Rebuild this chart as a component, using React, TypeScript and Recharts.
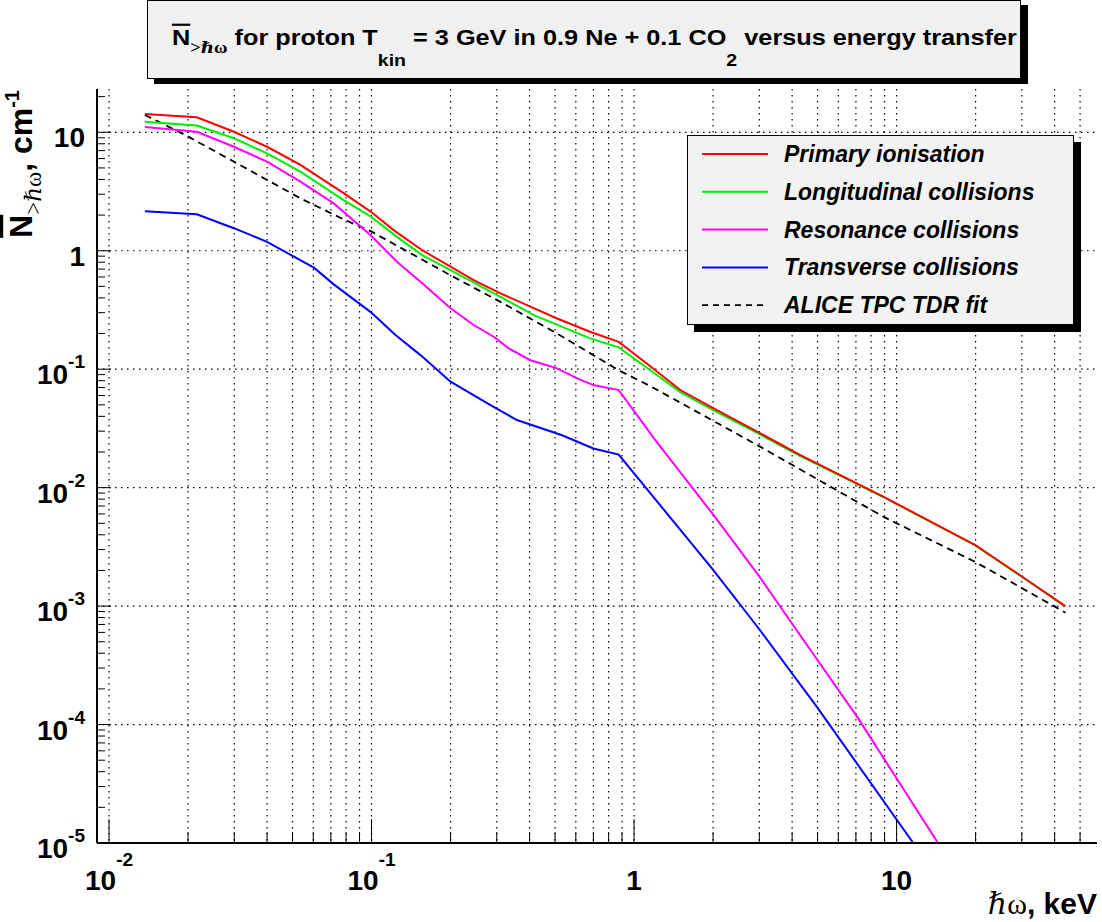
import React from "react";
import { LineChart, Line, XAxis, YAxis, CartesianGrid } from "recharts";

const SANS = "'Liberation Sans', Arial, Helvetica, sans-serif";
const SERIF = "'Liberation Serif', 'DejaVu Serif', 'Times New Roman', serif";

// energy transfer (keV) -> N above threshold (1/cm)
const primaryX = [0.0137, 0.0216, 0.0299, 0.04, 0.0536, 0.0783, 0.0995, 0.121, 0.156, 0.2, 0.245, 0.31, 0.403, 0.509, 0.68, 0.874, 1.153, 1.5, 2.01, 3.03, 4.3, 7.08, 8.93, 19.95, 30.1, 43.9];
const primaryY = [14.3, 13.4, 10.1, 7.55, 5.3, 3.06, 2.13, 1.5, 1.01, 0.733, 0.566, 0.436, 0.337, 0.268, 0.207, 0.17, 0.106, 0.0667, 0.0467, 0.0287, 0.0188, 0.0108, 0.00836, 0.00327, 0.00177, 0.001];

const longX = [0.0137, 0.0216, 0.0299, 0.04, 0.0536, 0.0783, 0.0995, 0.125, 0.156, 0.2, 0.31, 0.415, 0.68, 0.874, 1.153, 1.5, 2.01, 3.03, 4.3, 7.08, 8.93, 19.95, 30.1, 43.9];
const longY = [12.3, 11.4, 8.9, 6.65, 4.65, 2.68, 1.94, 1.31, 0.92, 0.687, 0.408, 0.286, 0.182, 0.153, 0.098, 0.064, 0.045, 0.028, 0.0185, 0.0107, 0.0083, 0.00325, 0.00176, 0.000995];

const resX = [0.0137, 0.0216, 0.0299, 0.04, 0.0536, 0.0718, 0.099, 0.125, 0.156, 0.2, 0.245, 0.292, 0.333, 0.403, 0.509, 0.607, 0.7, 0.874, 1.205, 2.01, 2.98, 4.0, 7.08, 14.3];
const resY = [11.1, 10.1, 7.55, 5.65, 3.83, 2.51, 1.36, 0.807, 0.531, 0.327, 0.236, 0.188, 0.15, 0.119, 0.1016, 0.0836, 0.0734, 0.0666, 0.0252, 0.00586, 0.00182, 0.00071, 0.000116, 0.0000102];

const transX = [0.0137, 0.0216, 0.0299, 0.04, 0.0603, 0.0718, 0.099, 0.1234, 0.1536, 0.2, 0.284, 0.358, 0.532, 0.7, 0.874, 1.98, 2.98, 4.97, 11.5];
const transY = [2.16, 2.03, 1.55, 1.19, 0.72, 0.52, 0.305, 0.194, 0.1315, 0.0784, 0.0498, 0.0372, 0.0277, 0.0214, 0.019, 0.00208, 0.00065, 0.000141, 0.0000102];

const fitX = [0.0137, 0.0195, 0.0299, 0.04, 0.0536, 0.0783, 0.1, 0.2, 0.31, 0.509, 0.874, 1.153, 3.03, 8.93, 19.95, 44];
const fitY = [14.0, 9.5, 5.65, 3.96, 2.77, 1.84, 1.45, 0.62, 0.37, 0.2, 0.098, 0.072, 0.0221, 0.00566, 0.00236, 0.00088];

const seriesNames = ["Primary ionisation", "Longitudinal collisions", "Resonance collisions", "Transverse collisions", "ALICE TPC TDR fit"];
const seriesColors = ["#ff0000", "#00ee00", "#ff00ff", "#0000ff", "#000000"];

// axis ticks
const xMajor = [0.01, 0.1, 1, 10];
const xMajorBase = ["10", "10", "1", "10"];
const xMajorExp = ["-2", "-1", "", ""];
const yMajor = [1e-5, 1e-4, 1e-3, 1e-2, 0.1, 1, 10];
const yMajorBase = ["10", "10", "10", "10", "10", "1", "10"];
const yMajorExp = ["-5", "-4", "-3", "-2", "-1", "", ""];
const minorMult = [1, 2, 3, 4, 5, 6, 7, 8, 9];

const X_DOMAIN = [0.009, 58];
const Y_DOMAIN = [1e-5, 23.2];

const expand = (decades: number[], top: number) =>
  decades.flatMap((d) => minorMult.map((m) => parseFloat((m * d).toPrecision(3)))).filter((v) => v <= top);

const xTicks = expand(xMajor, 50);
const yTicks = expand(yMajor, 20);

const toData = (xs: number[], ys: number[]) => xs.map((x, i) => ({ x, y: ys[i] }));
const series = [
  { name: seriesNames[4], color: seriesColors[4], dash: "7 5", data: toData(fitX, fitY) },
  { name: seriesNames[3], color: seriesColors[3], dash: undefined, data: toData(transX, transY) },
  { name: seriesNames[2], color: seriesColors[2], dash: undefined, data: toData(resX, resY) },
  { name: seriesNames[1], color: seriesColors[1], dash: undefined, data: toData(longX, longY) },
  { name: seriesNames[0], color: seriesColors[0], dash: undefined, data: toData(primaryX, primaryY) },
];

const findMajor = (list: number[], v: number) => list.findIndex((m) => Math.abs(m - v) / m < 1e-6);

const XTick = (props: any) => {
  const { x, y, payload } = props;
  const i = findMajor(xMajor, payload.value);
  return (
    <g>
      <line x1={x} x2={x} y1={y} y2={y - (i >= 0 ? 24 : 11)} stroke="#000" strokeWidth={1} />
      {i >= 0 && (
        <text x={x} y={y + 47} textAnchor="middle" fontSize={28} fontWeight="bold" fontFamily={SANS} fill="#000">
          {xMajorBase[i]}
          {xMajorExp[i] && <tspan dy={-24} fontSize={19}>{xMajorExp[i]}</tspan>}
        </text>
      )}
    </g>
  );
};

const YTick = (props: any) => {
  const { x, y, payload } = props;
  const i = findMajor(yMajor, payload.value);
  return (
    <g>
      <line x1={x} x2={x + (i >= 0 ? 14 : 8)} y1={y} y2={y} stroke="#000" strokeWidth={1} />
      {i >= 0 && (
        <text x={x - 12} y={y + 15} textAnchor="end" fontSize={28} fontWeight="bold" fontFamily={SANS} fill="#000">
          {yMajorBase[i]}
          {yMajorExp[i] && <tspan dy={-16} fontSize={19}>{yMajorExp[i]}</tspan>}
        </text>
      )}
    </g>
  );
};

const legendOrder = [0, 1, 2, 3, 4];

export default function App() {
  return (
    <div style={{ position: "absolute", left: 0, top: 0, width: 1102, height: 922, background: "#fff" }}>
      <div style={{ position: "absolute", left: 0, top: 0 }}>
        <LineChart width={1102} height={922} margin={{ top: 89, right: 5, bottom: 0, left: 0 }}>
          <CartesianGrid stroke="#000" strokeWidth={1.2} strokeDasharray="1.5 4.5" verticalValues={xTicks} horizontalValues={yMajor} />
          <XAxis type="number" dataKey="x" scale="log" domain={X_DOMAIN} allowDataOverflow ticks={xTicks} interval={0}
            tick={XTick} tickLine={false} tickSize={0} tickMargin={0} height={79} axisLine={{ stroke: "#000", strokeWidth: 2 }} />
          <XAxis xAxisId="top" orientation="top" type="number" dataKey="x" scale="log" domain={X_DOMAIN} allowDataOverflow
            tick={false} tickLine={false} height={0} axisLine={{ stroke: "#000", strokeWidth: 2 }} />
          <YAxis type="number" dataKey="y" scale="log" domain={Y_DOMAIN} allowDataOverflow ticks={yTicks} interval={0}
            tick={YTick} tickLine={false} tickSize={0} tickMargin={0} width={97} axisLine={{ stroke: "#000", strokeWidth: 2 }} />
          <YAxis yAxisId="right" orientation="right" type="number" scale="log" domain={Y_DOMAIN} allowDataOverflow
            tick={false} tickLine={false} width={0} axisLine={{ stroke: "#000", strokeWidth: 2 }} />
          {series.map((s) => (
            <Line key={s.name} data={s.data} dataKey="y" type="linear" stroke={s.color} strokeWidth={s.dash ? 1.8 : 2}
              strokeDasharray={s.dash} dot={false} activeDot={false} isAnimationActive={false} />
          ))}
        </LineChart>
      </div>
      <svg width={1102} height={922} style={{ position: "absolute", left: 0, top: 0, pointerEvents: "none" }}>
        {/* title */}
        <rect x={154} y={5} width={874} height={79} fill="#000" />
        <rect x={147.5} y={0.5} width={873} height={78} fill="#f0f0f0" stroke="#000" strokeWidth={1} />
        <text x={172} y={45} fontSize={22} fontWeight="bold" fontFamily={SANS} fill="#000"
          transform="translate(172 0) scale(1.15 1) translate(-172 0)">
          <tspan style={{ textDecoration: "overline" }}>N</tspan>
          <tspan dy={8} fontSize={16} fontFamily={SERIF}>{">ℏω"}</tspan>
          <tspan dy={-8}> for proton T</tspan>
          <tspan dy={21} fontSize={17}>kin</tspan>
          <tspan dy={-21}> = 3 GeV in 0.9 Ne + 0.1 CO</tspan>
          <tspan dy={21} fontSize={17}>2</tspan>
          <tspan dy={-21}> versus energy transfer</tspan>
        </text>

        {/* y axis title */}
        <text transform="rotate(-90)" x={-90} y={32} textAnchor="end" fontSize={32} fontWeight="bold" fontFamily={SANS} fill="#000">
          <tspan style={{ textDecoration: "overline" }}>N</tspan>
          <tspan dy={9} fontSize={23} fontFamily={SERIF} fontWeight="normal">{">ℏω"}</tspan>
          <tspan dy={-9}>, cm</tspan>
          <tspan dy={-13} fontSize={20}>-1</tspan>
        </text>

        {/* x axis title */}
        <text x={1097} y={914} textAnchor="end" fontSize={30} fontWeight="bold" fontFamily={SANS} fill="#000">
          <tspan fontFamily={SERIF} fontWeight="normal">ℏω</tspan>
          <tspan>, keV</tspan>
        </text>

        {/* legend */}
        <rect x={694} y={142} width={387} height={190} fill="#000" />
        <rect x={687.5} y={135.5} width={386} height={189} fill="#f2f2f2" stroke="#000" strokeWidth={1} />
        {legendOrder.map((k, row) => {
          const cy = 154 + row * 37.8;
          return (
            <g key={seriesNames[k]}>
              <line x1={702} x2={768} y1={cy} y2={cy} stroke={seriesColors[k]} strokeWidth={k === 4 ? 1.8 : 2}
                strokeDasharray={k === 4 ? "6 5" : undefined} />
              <text x={784} y={cy + 8} fontSize={23} fontWeight="bold" fontStyle="italic" fontFamily={SANS} fill="#000">
                {seriesNames[k]}
              </text>
            </g>
          );
        })}
      </svg>
    </div>
  );
}
